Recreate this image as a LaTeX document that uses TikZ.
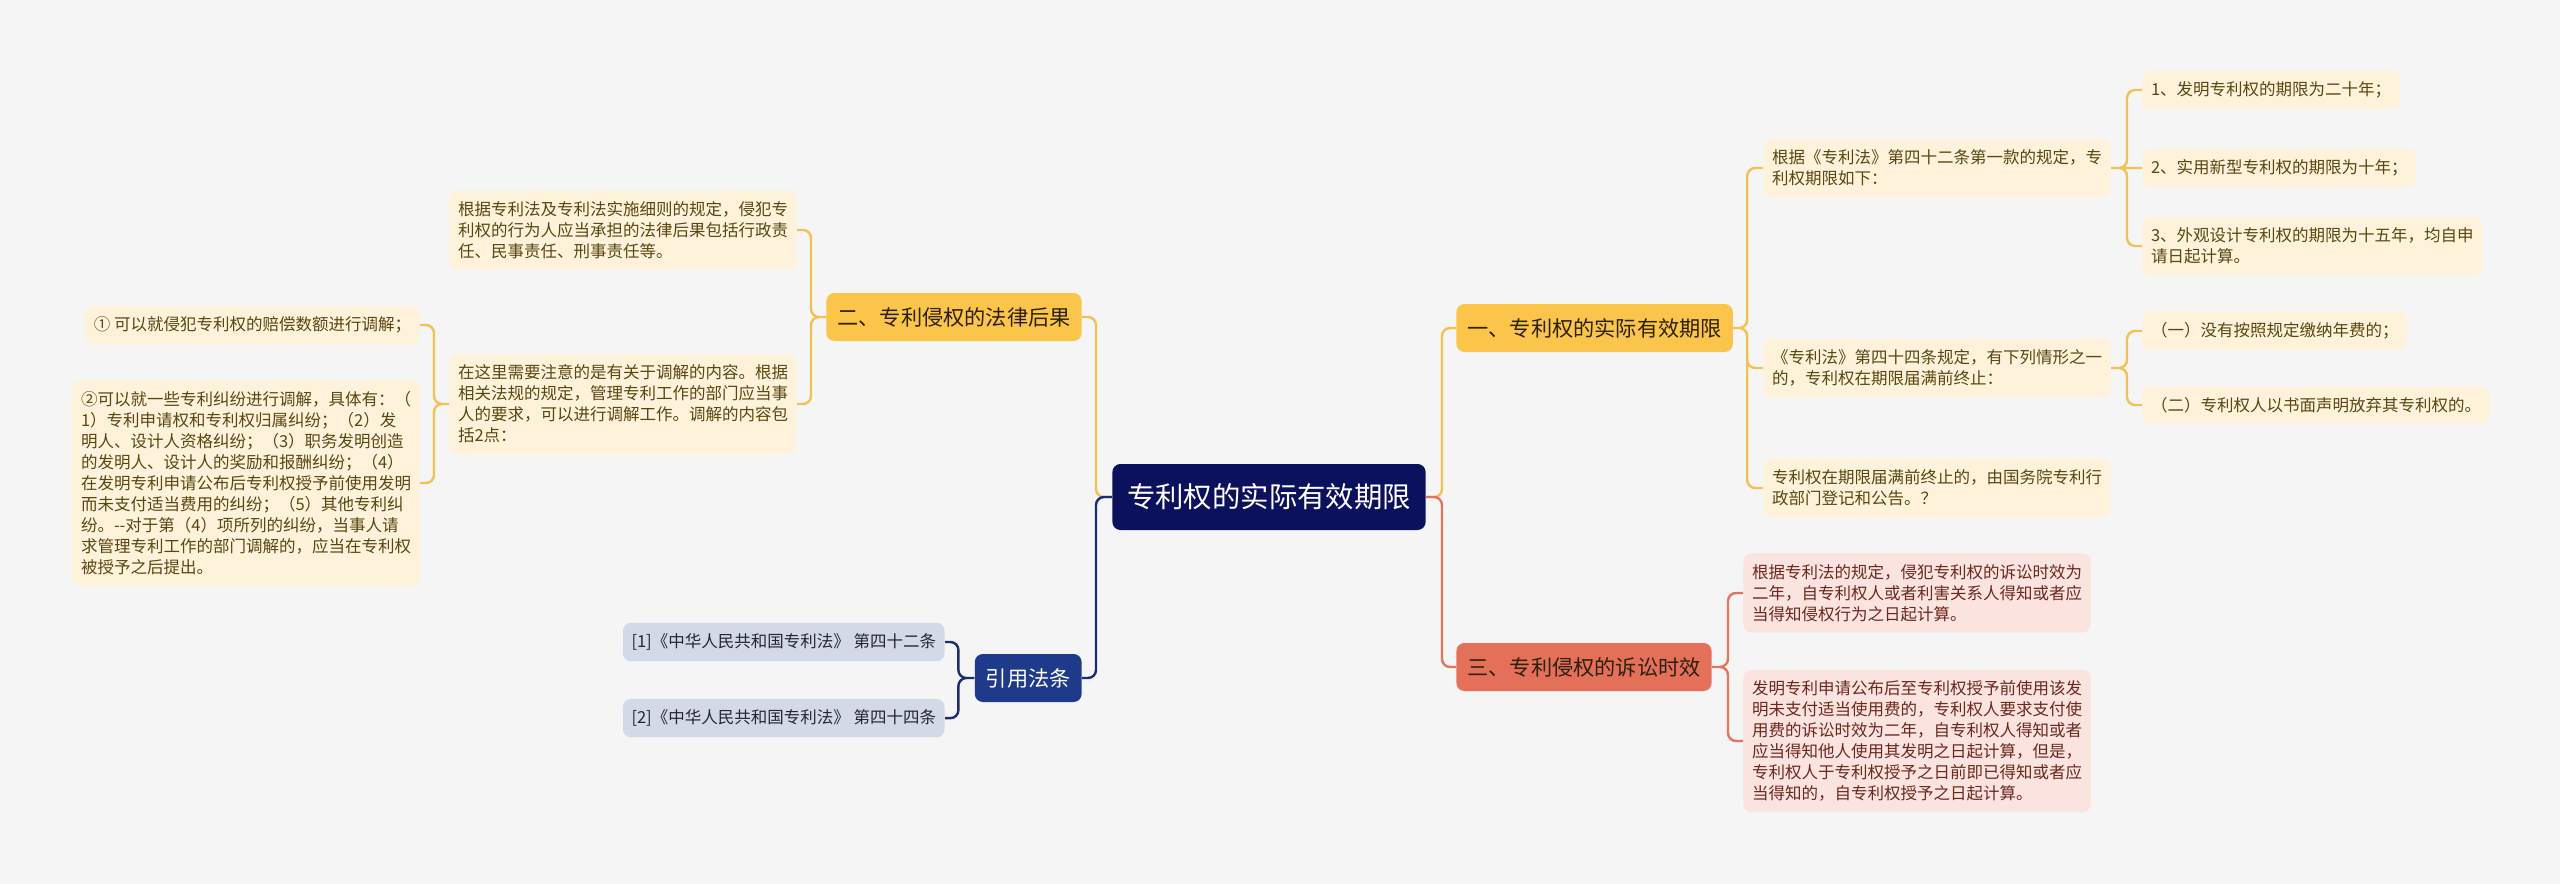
\documentclass[tikz,border=0pt]{standalone}
\usepackage{tikz}
\usepackage{fontspec}
\usetikzlibrary{positioning}
\newfontfamily\cjk{Noto Sans CJK SC}
\definecolor{bg}{RGB}{245,245,245}
\definecolor{navy}{RGB}{12,17,94}
\definecolor{gold}{RGB}{250,197,74}
\definecolor{goldline}{RGB}{243,193,82}
\definecolor{goldleaf}{RGB}{254,243,218}
\definecolor{goldtext}{RGB}{90,70,18}
\definecolor{salmon}{RGB}{228,112,90}
\definecolor{salmonline}{RGB}{224,118,96}
\definecolor{salmonleaf}{RGB}{251,228,224}
\definecolor{salmontext}{RGB}{106,40,30}
\definecolor{lawblue}{RGB}{31,58,138}
\definecolor{lawline}{RGB}{27,44,112}
\definecolor{lawleaf}{RGB}{212,217,232}
\definecolor{lawtext}{RGB}{36,38,54}
\definecolor{branchtext}{RGB}{45,32,12}
\tikzset{root node/.style={rectangle,rounded corners=4pt,fill=navy,text=white,font=\cjk\fontsize{14.2pt}{17pt}\selectfont,text height=12.5pt,text depth=1.7pt,inner xsep=7.3pt,inner ysep=9.4pt}}
\tikzset{branch node/.style={rectangle,rounded corners=4pt,text=branchtext,font=\cjk\fontsize{10.6pt}{13pt}\selectfont,text height=9.3pt,text depth=1.3pt,inner xsep=5.5pt,inner ysep=6.7pt}}
\tikzset{leaf node/.style={rectangle,rounded corners=4pt,fill=goldleaf,text=goldtext,align=left,font=\cjk\fontsize{8.25pt}{10.5pt}\selectfont,inner xsep=4.3pt,inner ysep=5.4pt}}
\tikzset{link/.style={line width=1.2pt,rounded corners=4pt}}

\begin{document}
\begin{tikzpicture}[x=0.5pt,y=-0.5pt]
    \fill[bg] (0,0) rectangle (2560,884);
    \useasboundingbox (0,0) rectangle (2560,884);

    \node[root node] (r) at (1269,497) {专利权的实际有效期限};
    \node[branch node,fill={gold},anchor=west] (b_{1}) at (1456,328) {一、专利权的实际有效期限};
    \node[branch node,fill={gold},anchor=east] (b_{2}) at (1082,317) {二、专利侵权的法律后果};
    \node[branch node,fill={salmon},anchor=west] (b_{3}) at (1456,667) {三、专利侵权的诉讼时效};
    \node[branch node,fill={lawblue},text=white,anchor=east] (b_{4}) at (1082,678) {引用法条};

    \node[leaf node,anchor=west] (a_{1}) at (1763,168) {根据《专利法》第四十二条第一款的规定，专\\利权期限如下：};
    \node[leaf node,anchor=west] (a_{2}) at (1763,368) {《专利法》第四十四条规定，有下列情形之一\\的，专利权在期限届满前终止：};
    \node[leaf node,anchor=west] (a_{3}) at (1763,488) {专利权在期限届满前终止的，由国务院专利行\\政部门登记和公告。？};

    \node[leaf node,anchor=west] (d_{1}) at (2142,90) {1、发明专利权的期限为二十年；};
    \node[leaf node,anchor=west] (d_{2}) at (2142,168) {2、实用新型专利权的期限为十年；};
    \node[leaf node,anchor=west] (d_{3}) at (2142,246) {3、外观设计专利权的期限为十五年，均自申\\请日起计算。};
    \node[leaf node,anchor=west] (e_{1}) at (2142,331) {（一）没有按照规定缴纳年费的；};
    \node[leaf node,anchor=west] (e_{2}) at (2142,405) {（二）专利权人以书面声明放弃其专利权的。};

    \node[leaf node,fill={salmonleaf},text=salmontext,anchor=west] (f_{1}) at (1743,593) {根据专利法的规定，侵犯专利权的诉讼时效为\\二年，自专利权人或者利害关系人得知或者应\\当得知侵权行为之日起计算。};
    \node[leaf node,fill={salmonleaf},text=salmontext,anchor=west] (f_{2}) at (1743,741) {发明专利申请公布后至专利权授予前使用该发\\明未支付适当使用费的，专利权人要求支付使\\用费的诉讼时效为二年，自专利权人得知或者\\应当得知他人使用其发明之日起计算，但是，\\专利权人于专利权授予之日前即已得知或者应\\当得知的，自专利权授予之日起计算。};

    \node[leaf node,anchor=east] (g_{1}) at (797,230) {根据专利法及专利法实施细则的规定，侵犯专\\利权的行为人应当承担的法律后果包括行政责\\任、民事责任、刑事责任等。};
    \node[leaf node,anchor=east] (g_{2}) at (797,404) {在这里需要注意的是有关于调解的内容。根据\\相关法规的规定，管理专利工作的部门应当事\\人的要求，可以进行调解工作。调解的内容包\\括2点：};
    \node[leaf node,anchor=east] (h_{1}) at (420,325) {① 可以就侵犯专利权的赔偿数额进行调解；};
    \node[leaf node,anchor=east] (h_{2}) at (420,483) {②可以就一些专利纠纷进行调解，具体有：（\\1）专利申请权和专利权归属纠纷；（2）发\\明人、设计人资格纠纷；（3）职务发明创造\\的发明人、设计人的奖励和报酬纠纷；（4）\\在发明专利申请公布后专利权授予前使用发明\\而未支付适当费用的纠纷；（5）其他专利纠\\纷。--对于第（4）项所列的纠纷，当事人请\\求管理专利工作的部门调解的，应当在专利权\\被授予之后提出。};

    \node[leaf node,fill={lawleaf},text=lawtext,anchor=east] (c_{1}) at (945,642) {[1]《中华人民共和国专利法》 第四十二条};
    \node[leaf node,fill={lawleaf},text=lawtext] (c_{2}) [below = 18.5pt of c_{1}] {[2]《中华人民共和国专利法》 第四十四条};

    \path[draw,link,goldline]
    (r.west) -- ++(-16,0) |- (b_{2}.east)
    (r.east) -- ++(16,0) |- (b_{1}.west);
    \path[draw,link,lawline] (r.west) -- ++(-16,0) |- (b_{4}.east);
    \path[draw,link,salmonline] (r.east) -- ++(16,0) |- (b_{3}.west);

    \path[draw,link,goldline]
    (b_{1}.east) -- ++(14,0) |- (a_{1}.west)
    (b_{1}.east) -- ++(14,0) |- (a_{2}.west)
    (b_{1}.east) -- ++(14,0) |- (a_{3}.west)
    (a_{1}.east) -- ++(16,0) |- (d_{1}.west)
    (a_{1}.east) -- (d_{2}.west)
    (a_{1}.east) -- ++(16,0) |- (d_{3}.west)
    (a_{2}.east) -- ++(16,0) |- (e_{1}.west)
    (a_{2}.east) -- ++(16,0) |- (e_{2}.west)
    (b_{2}.west) -- ++(-15,0) |- (g_{1}.east)
    (b_{2}.west) -- ++(-15,0) |- (g_{2}.east)
    (g_{2}.west) -- ++(-15,0) |- (h_{1}.east)
    (g_{2}.west) -- ++(-15,0) |- (h_{2}.east);
    \path[draw,link,salmonline]
    (b_{3}.east) -- ++(16,0) |- (f_{1}.west)
    (b_{3}.east) -- ++(16,0) |- (f_{2}.west);
    \path[draw,link,lawline]
    (b_{4}.west) -- ++(-16,0) |- (c_{1}.east)
    (b_{4}.west) -- ++(-16,0) |- (c_{2}.east);
\end{tikzpicture}
\end{document}
